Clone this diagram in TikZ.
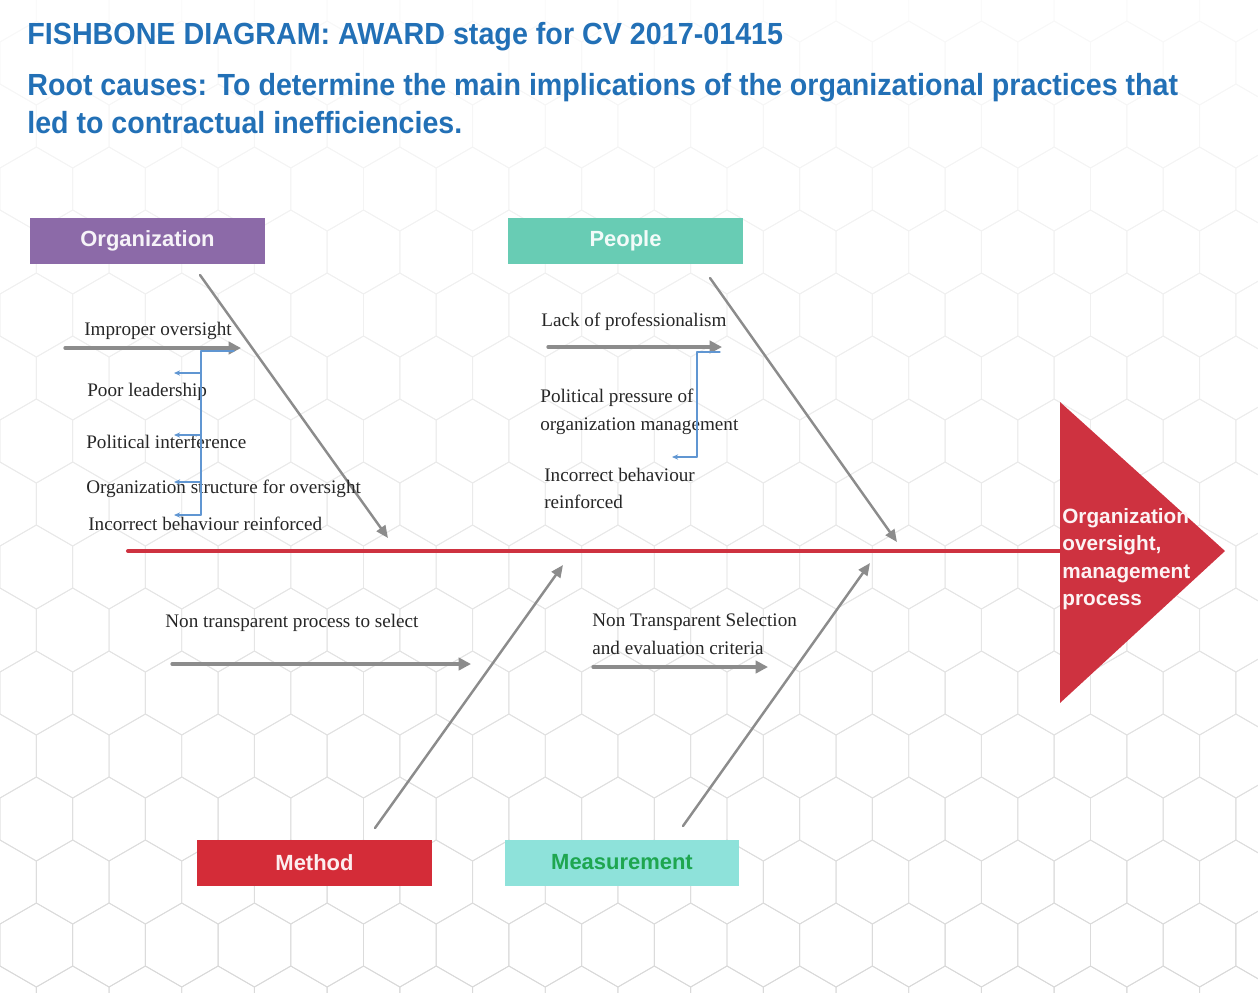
\documentclass[tikz,border=0pt]{standalone}
\usepackage{fontspec}
\usepackage{graphicx}
\setmainfont{Liberation Serif}
\newfontfamily\headfont{Liberation Sans}
\usetikzlibrary{arrows.meta,positioning}

\definecolor{titleblue}{RGB}{34,112,182}
\definecolor{orgpurple}{RGB}{140,106,168}
\definecolor{peopleteal}{RGB}{104,204,180}
\definecolor{methodred}{RGB}{212,44,56}
\definecolor{measureteal}{RGB}{142,226,218}
\definecolor{measuregreen}{RGB}{30,166,80}
\definecolor{spinered}{RGB}{206,50,64}
\definecolor{bonegray}{RGB}{140,140,140}
\definecolor{linkblue}{RGB}{96,150,210}

\tikzset{
  catbox/.style={minimum width=4.7cm, minimum height=0.92cm, inner sep=0pt,
                 font=\headfont\bfseries\fontsize{12.5}{14}\selectfont},
  bone/.style={draw=bonegray, line width=1.4pt, -{Triangle[length=7pt,width=6pt]}},
  subarrow/.style={draw=bonegray, line width=1.9pt, -{Triangle[length=7pt,width=7pt]}},
  elbow/.style={draw=linkblue, line width=0.6pt},
  elbowarrow/.style={elbow, -{Stealth[length=3.5pt,width=3pt]}},
  cause/.style={anchor=base west, inner sep=0pt, text=black!85,
                font=\fontsize{10.9}{12.5}\selectfont},
  titletext/.style={anchor=base west, inner sep=0pt, text=titleblue,
                    font=\headfont\bfseries\fontsize{17.4}{20}\selectfont}
}

\begin{document}
\begin{tikzpicture}[x=0.02cm, y=-0.02cm, line join=round, line cap=round]
\useasboundingbox (0,0) rectangle (1258,992);

% faint honeycomb behind everything
\foreach \j in {0,...,16}
  \foreach \i in {-1,...,18} {
    \pgfmathsetmacro{\hx}{\i*72.7+mod(\j,2)*36.35}
    \pgfmathsetmacro{\hy}{\j*63}
    \pgfmathsetmacro{\shade}{2+\j*0.8}
    \draw[black!\shade, line width=0.5pt] (\hx,\hy)
      +(90:42) -- +(150:42) -- +(210:42) -- +(270:42) -- +(330:42) -- +(30:42) -- cycle;
  }

% titles
\node[titletext] (title) at (27,44) {\resizebox{15.12cm}{\height}{FISHBONE DIAGRAM: AWARD stage for CV 2017-01415}};
\node[titletext] (aim1) at (27,95) {\resizebox{23.02cm}{\height}{Root causes: To determine the main implications of the organizational practices that}};
\node[titletext] (aim2) at (27,133) {\resizebox{8.7cm}{\height}{led to contractual inefficiencies.}};

% category boxes
\node[catbox, fill=orgpurple, text=white!92!orgpurple] (org) at (147.5,241) {Organization};
\node[catbox, fill=peopleteal, text=white!92!peopleteal] (people) at (625.5,241) {People};
\node[catbox, fill=methodred, text=white!92!methodred] (method) at (314.5,862.5) {Method};
\node[catbox, fill=measureteal, text=measuregreen] (measure) at (622,862.5) {Measurement};

% spine and head
\coordinate (tail) at (128,551);
\coordinate (headTop) at (1060,402);
\coordinate (headTip) at (1225,551);
\coordinate (headBot) at (1060,703);
\draw[spinered, line width=2.3pt] (tail) -- (tail -| headTop);
\fill[spinered] (headTop) -- (headTip) -- (headBot) -- cycle;
\node[anchor=north west, inner sep=0pt, align=left, text=white!94!spinered,
      font=\headfont\bfseries\fontsize{11.8}{15.6}\selectfont] (effect) at (1062,508)
  {Organization\\oversight,\\management\\process};

% bones
\coordinate (orgStart) at (200,275);
\coordinate (orgEnd) at (388,538);
\coordinate (peopleStart) at (710,278);
\coordinate (peopleEnd) at (897,542);
\coordinate (methodStart) at (375,828);
\coordinate (methodEnd) at (563,565);
\coordinate (measureStart) at (683,826);
\coordinate (measureEnd) at (870,563);
\draw[bone] (orgStart) -- (orgEnd);
\draw[bone] (peopleStart) -- (peopleEnd);
\draw[bone] (methodStart) -- (methodEnd);
\draw[bone] (measureStart) -- (measureEnd);

% sub causes
\coordinate (impA) at (65,348);    \coordinate (impB) at (241,348);
\coordinate (lackA) at (548,347);  \coordinate (lackB) at (722,347);
\coordinate (nonA) at (172,664);   \coordinate (nonB) at (471,664);
\coordinate (selA) at (593,667);   \coordinate (selB) at (768,667);
\draw[subarrow] (impA) -- (impB);
\draw[subarrow] (lackA) -- (lackB);
\draw[subarrow] (nonA) -- (nonB);
\draw[subarrow] (selA) -- (selB);

\node[cause] (improper) at (84,335) {Improper oversight};
\node[cause] (poor) at (87,396) {Poor leadership};
\node[cause] (interf) at (86,448) {Political interference};
\node[cause] (struct) at (86,493) {Organization structure for oversight};
\node[cause] (incorrect) at (88,530) {Incorrect behaviour reinforced};

\node[cause] (lack) at (541,326) {Lack of professionalism};
\node[cause] (pressure) at (540,402) {Political pressure of};
\node[cause] (pressure2) at (540,430) {organization management};
\node[cause] (incorrect2) at (544,481) {Incorrect behaviour};
\node[cause] (incorrect3) at (544,508) {reinforced};

\node[cause] (nontrans) at (165,627) {Non transparent process to select};
\node[cause] (selection) at (592,626) {Non Transparent Selection};
\node[cause] (selection2) at (592,654) {and evaluation criteria};

% elbow links
\coordinate (orgLinkTop) at (201,351);
\coordinate (orgLinkEnd) at (234,351);
\draw[elbow] (orgLinkEnd) -- (orgLinkTop) -- (201,515);
\foreach \y in {373,435,482,515}
  \draw[elbowarrow] (201,\y) -- (174,\y);

\coordinate (peopleLinkTop) at (697,352);
\coordinate (peopleLinkEnd) at (720,352);
\draw[elbow] (peopleLinkEnd) -- (peopleLinkTop) -- (697,457);
\draw[elbowarrow] (697,457) -- (672,457);

\end{tikzpicture}
\end{document}
